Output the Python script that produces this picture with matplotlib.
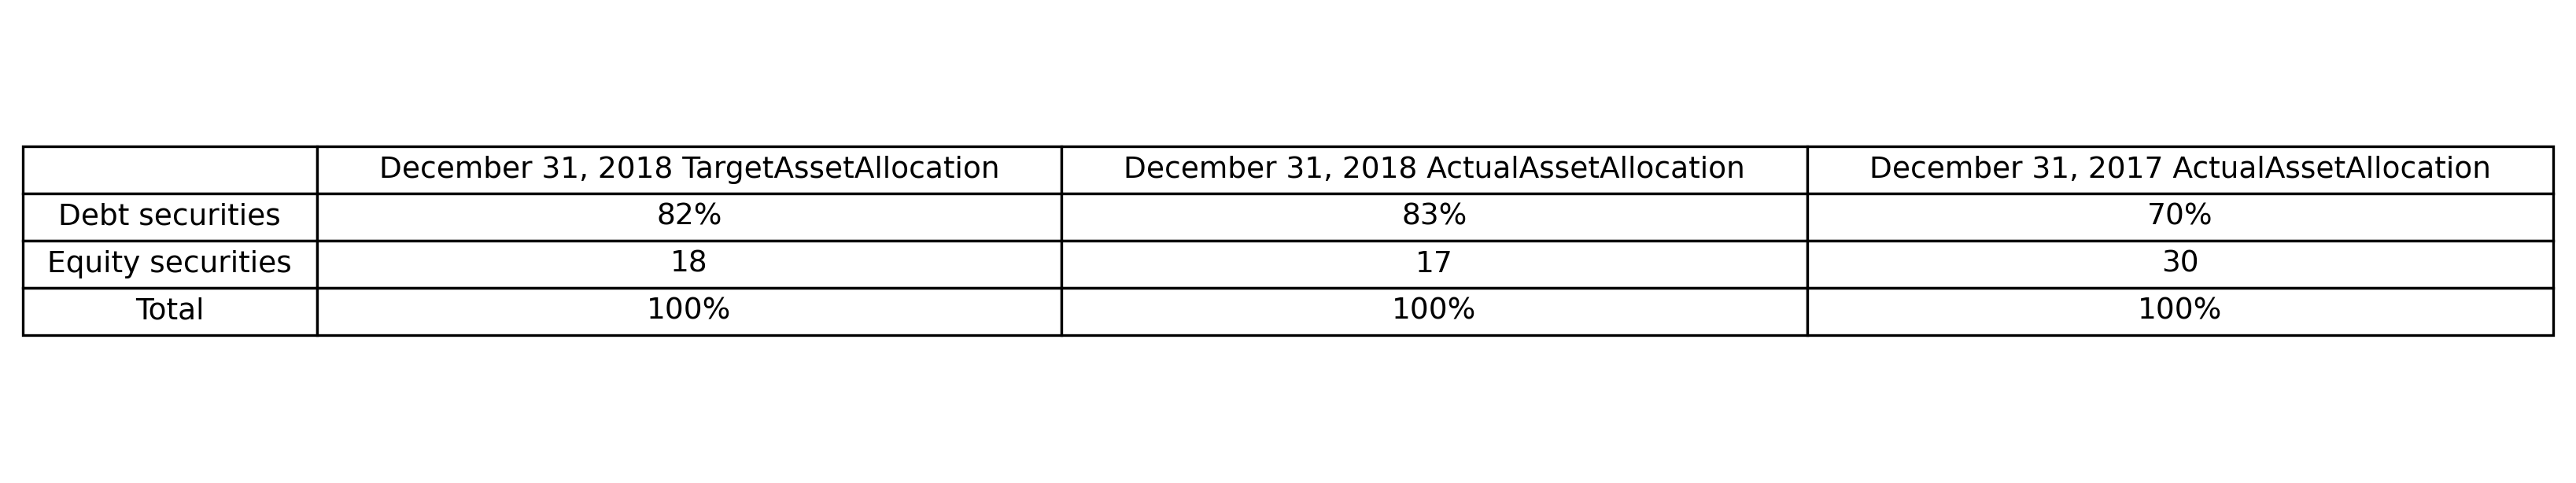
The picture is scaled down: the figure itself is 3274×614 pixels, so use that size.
import matplotlib
matplotlib.use("Agg")
import matplotlib.pyplot as plt

# Datos de la tabla
columnas = ["December 31, 2018 TargetAssetAllocation",
            "December 31, 2018 ActualAssetAllocation",
            "December 31, 2017 ActualAssetAllocation"]
filas = ["Debt securities", "Equity securities", "Total"]
target_2018 = ["82%", "18", "100%"]
actual_2018 = ["83%", "17", "100%"]
actual_2017 = ["70%", "30", "100%"]

celdas = [[""] + columnas]
for i, fila in enumerate(filas):
    celdas.append([fila, target_2018[i], actual_2018[i], actual_2017[i]])

fig = plt.figure(figsize=(3274/300, 614/300), dpi=300)
ax = fig.add_axes([0, 0, 1, 1])
ax.axis('off')

tabla = ax.table(cellText=celdas, cellLoc='center',
                 colWidths=[0.1162, 0.2942, 0.2948, 0.2948],
                 bbox=[0.00886, 0.3062, 0.9823, 0.3909])
tabla.auto_set_font_size(False)
tabla.set_fontsize(9)
for celda in tabla.get_celld().values():
    celda.set_linewidth(0.8)

fig.savefig("out.png", dpi=300)
